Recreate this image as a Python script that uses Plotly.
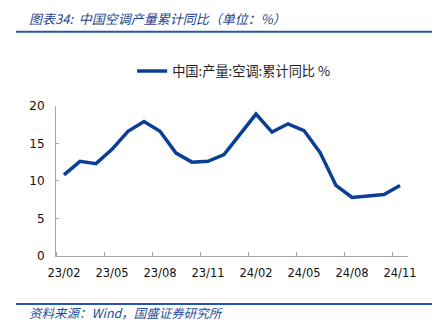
import plotly.graph_objects as go

# Monthly cumulative YoY growth of China's air-conditioner output (%)
months = ["23/02", "23/03", "23/04", "23/05", "23/06", "23/07", "23/08", "23/09",
          "23/10", "23/11", "23/12", "24/01", "24/02", "24/03", "24/04", "24/05",
          "24/06", "24/07", "24/08", "24/09", "24/10", "24/11"]
yoy = [10.8, 12.6, 12.3, 14.2, 16.6, 17.9, 16.6, 13.7,
       12.5, 12.6, 13.5, None, 18.9, 16.5, 17.6, 16.7,
       13.8, 9.4, 7.8, None, 8.2, 9.4]
tick_labels = ["23/02", "23/05", "23/08", "23/11", "24/02", "24/05", "24/08", "24/11"]
y_ticks = [0, 5, 10, 15, 20]

series_name = "中国:产量:空调:累计同比 %"
title_text = "图表34:  中国空调产量累计同比（单位：%）"
source_text = "资料来源：Wind，国盛证券研究所"

LINE = "#0B3F93"
RULE = "#2457A4"
AXIS = "#A6A6A6"
CJK = "Noto Sans CJK SC"
NUM = "DejaVu Sans"

idx = list(range(len(months)))
tick_pos = [months.index(m) for m in tick_labels]
boundaries = [p - 0.5 for p in tick_pos]

fig = go.Figure()
fig.add_trace(go.Scatter(
    x=idx, y=yoy, mode="lines", name=series_name,
    line=dict(color=LINE, width=3.5), connectgaps=True,
))

fig.update_layout(
    width=445, height=335,
    margin=dict(l=56, r=37, t=104, b=79),
    paper_bgcolor="white", plot_bgcolor="white",
    showlegend=True,
    legend=dict(
        orientation="h", xref="container", yref="container",
        x=0.297, y=1 - 71.5 / 335, xanchor="left", yanchor="middle",
        font=dict(family=CJK, size=13.2, color="#222222"),
        itemwidth=30, bgcolor="rgba(0,0,0,0)",
    ),
    xaxis=dict(
        range=[-0.5, len(months) - 0.5],
        tickmode="array", tickvals=tick_pos, ticktext=tick_labels,
        ticks="", showgrid=False, zeroline=False,
        showline=True, linecolor=AXIS, linewidth=1,
        tickfont=dict(family=NUM, size=11.5, color="#111111"),
        ticklabelstandoff=6,
        minor=dict(tickmode="array", tickvals=boundaries, ticks="inside",
                   ticklen=4, tickcolor=AXIS, tickwidth=1, showgrid=False),
        fixedrange=True,
    ),
    yaxis=dict(
        range=[0, 20], tickmode="array", tickvals=y_ticks,
        ticks="inside", ticklen=3, tickcolor=AXIS,
        showgrid=False, zeroline=False,
        showline=True, linecolor=AXIS, linewidth=1,
        tickfont=dict(family=NUM, size=12, color="#111111"),
        ticklabelstandoff=8,
        fixedrange=True,
    ),
    shapes=[
        dict(type="line", xref="paper", yref="paper",
             x0=-40 / 352, x1=376 / 352, y0=1 + (104 - 29) / 152, y1=1 + (104 - 29) / 152,
             line=dict(color=RULE, width=2)),
        dict(type="line", xref="paper", yref="paper",
             x0=-40 / 352, x1=376 / 352, y0=-(304.5 - 256) / 152, y1=-(304.5 - 256) / 152,
             line=dict(color=RULE, width=2)),
    ],
    annotations=[
        dict(text="<i>" + title_text + "</i>", xref="paper", yref="paper",
             x=-29 / 352, y=1 + (104 - 15.5) / 152, xanchor="left", yanchor="middle",
             showarrow=False, font=dict(family=CJK, size=13, color="#1F3F8F")),
        dict(text="<i>" + source_text + "</i>", xref="paper", yref="paper",
             x=-29 / 352, y=-(313 - 256) / 152, xanchor="left", yanchor="middle",
             showarrow=False, font=dict(family=CJK, size=12.5, color="#1F4E9A")),
    ],
)

fig.write_html("out.html", config={"displayModeBar": False})
